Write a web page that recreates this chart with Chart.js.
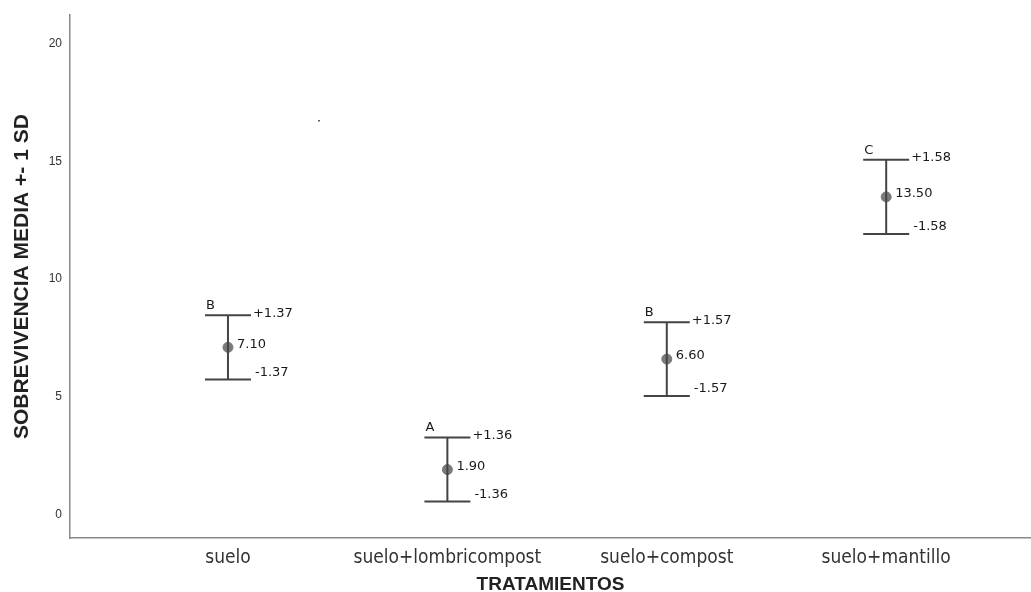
<!DOCTYPE html>
<html>
<head>
<meta charset="utf-8">
<script src="https://cdn.jsdelivr.net/npm/chart.js@4"></script>
<style>
  html, body { margin: 0; padding: 0; background: #fff; }
  #wrap { width: 1031px; height: 592px; }
</style>
</head>
<body>
<div id="wrap"><canvas id="c" width="1031" height="592"></canvas></div>
<script>
const treatments = ['suelo', 'suelo+lombricompost', 'suelo+compost', 'suelo+mantillo']
const means = [7.10, 1.90, 6.60, 13.50]
const sds = [1.37, 1.36, 1.57, 1.58]
const groups = ['B', 'A', 'B', 'C']
const yTicks = [0, 5, 10, 15, 20]
// the lone dot near the top left of the plot
const strayDot = { x: 1.415, y: 16.74 }

const errorBars = {
  id: 'errorBars',
  afterDatasetsDraw(chart) {
    const { ctx, scales: { x, y } } = chart
    const half = 23
    ctx.save()
    ctx.strokeStyle = '#444'
    ctx.lineWidth = 2
    ctx.font = '13px "DejaVu Sans", sans-serif'
    ctx.fillStyle = '#1a1a1a'
    means.forEach((m, i) => {
      const cx = x.getPixelForValue(i + 1)
      const yt = y.getPixelForValue(m + sds[i])
      const yb = y.getPixelForValue(m - sds[i])
      const ym = y.getPixelForValue(m)
      ctx.beginPath()
      ctx.moveTo(cx, yt); ctx.lineTo(cx, yb)
      ctx.moveTo(cx - half, yt); ctx.lineTo(cx + half, yt)
      ctx.moveTo(cx - half, yb); ctx.lineTo(cx + half, yb)
      ctx.stroke()

      ctx.textBaseline = 'middle'
      ctx.textAlign = 'left'
      ctx.fillText('+' + sds[i].toFixed(2), cx + half + 2, yt - 2)
      ctx.fillText('-' + sds[i].toFixed(2), cx + half + 4, yb - 7)
      ctx.fillText(m.toFixed(2), cx + 9, ym - 3)
      ctx.textBaseline = 'bottom'
      ctx.fillText(groups[i], cx - half + 1, yt - 3)
    })
    ctx.restore()
  }
}

new Chart(document.getElementById('c'), {
  type: 'scatter',
  data: {
    datasets: [
      {
        data: means.map((m, i) => ({ x: i + 1, y: m })),
        backgroundColor: '#7a7a7a',
        borderColor: '#7a7a7a',
        pointRadius: 5,
        pointHoverRadius: 5
      },
      {
        data: [strayDot],
        backgroundColor: '#222',
        borderWidth: 0,
        pointStyle: 'rect',
        pointRadius: 1
      }
    ]
  },
  options: {
    responsive: false,
    animation: false,
    events: [],
    layout: { autoPadding: false, padding: { top: 12, right: 0, left: 0, bottom: 0 } },
    plugins: {
      legend: { display: false },
      tooltip: { enabled: false }
    },
    scales: {
      x: {
        type: 'linear',
        min: 0.28,
        max: 4.66,
        afterBuildTicks: s => { s.ticks = treatments.map((t, i) => ({ value: i + 1 })) },
        afterFit: s => { s.height = 54; s.paddingRight = 0; s.paddingLeft = 0 },
        grid: { display: false, drawTicks: false },
        border: { color: '#888', width: 1.5 },
        ticks: {
          padding: 9,
          autoSkip: false,
          maxRotation: 0,
          color: '#333',
          font: { family: '"DejaVu Sans Condensed", "Liberation Sans", Arial', size: 19 },
          callback: v => treatments[v - 1] || ''
        },
        title: {
          display: true,
          text: 'TRATAMIENTOS',
          color: '#222',
          padding: { top: 3, bottom: -4 },
          font: { family: '"Liberation Sans", Arial', size: 19, weight: 'bold' }
        }
      },
      y: {
        min: -1.01,
        max: 21.23,
        afterBuildTicks: s => { s.ticks = yTicks.map(v => ({ value: v })) },
        afterFit: s => { s.width = 70 },
        grid: { display: false, drawTicks: false },
        border: { color: '#888', width: 1.5 },
        ticks: {
          padding: 8,
          color: '#333',
          font: { family: '"Liberation Sans", Arial', size: 12 }
        },
        title: {
          display: true,
          text: 'SOBREVIVENCIA MEDIA +- 1 SD',
          color: '#222',
          padding: { top: 10, bottom: 0 },
          font: { family: '"Liberation Sans", Arial', size: 21, weight: 'bold' }
        }
      }
    }
  },
  plugins: [errorBars]
})
</script>
</body>
</html>
